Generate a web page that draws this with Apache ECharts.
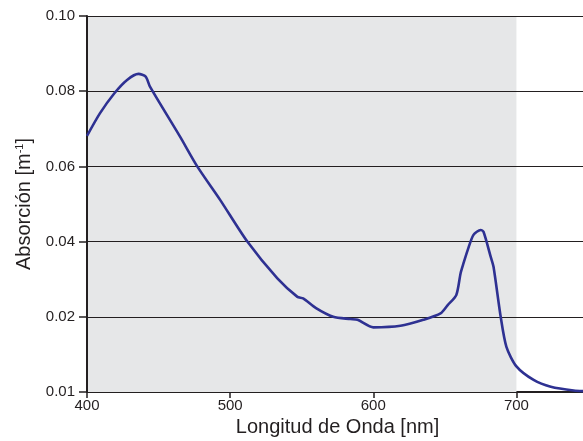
<!DOCTYPE html>
<html>
<head>
<meta charset="utf-8">
<script src="https://cdn.jsdelivr.net/npm/echarts@6/dist/echarts.min.js"></script>
<style>
  html, body { margin: 0; padding: 0; background: #fff; }
  #chart { width: 583px; height: 441px; }
</style>
</head>
<body>
<div id="chart"></div>
<script>
// longitud de onda (nm) y absorción
var wavelength = [400, 409, 419, 428, 436, 441, 444, 465, 477, 493, 512, 533, 547, 551, 560, 572, 584, 589, 600, 619, 635, 647, 652, 658, 661, 663, 666, 670, 675, 677, 682, 684, 689, 693, 700, 712, 724, 740, 750]
var absorption = [0.0681, 0.0741, 0.0794, 0.0830, 0.0846, 0.0839, 0.0812, 0.0679, 0.0600, 0.0511, 0.0400, 0.0302, 0.0253, 0.0249, 0.0223, 0.0200, 0.0197, 0.0196, 0.0186, 0.0188, 0.0196, 0.0209, 0.0231, 0.0258, 0.0316, 0.0342, 0.0378, 0.0418, 0.0431, 0.0426, 0.0360, 0.0333, 0.0200, 0.0160, 0.0134, 0.0116, 0.0107, 0.0102, 0.0101]
// el eje y tiene marcas equiespaciadas
var yTicks = [0.01, 0.02, 0.04, 0.06, 0.08, 0.10]
var yTickLabels = ['0.01', '0.02', '0.04', '0.06', '0.08', '0.10']
var shadedRange = [400, 700]

function toIdx(v) {
  for (var i = 0; i < yTicks.length - 1; i++) {
    if (v <= yTicks[i + 1]) {
      return i + (v - yTicks[i]) / (yTicks[i + 1] - yTicks[i])
    }
  }
  return yTicks.length - 1
}

var data = wavelength.map(function(w, i) {
  return [w, toIdx(absorption[i])]
})

var font = '"Liberation Sans", Arial, sans-serif'
var ink = '#231f20'
var chart = echarts.init(document.getElementById('chart'))
chart.setOption({
  animation: false,
  grid: {
    left: 87,
    top: 16,
    width: 501,
    height: 376,
    outerBoundsMode: 'none'
  },
  xAxis: {
    type: 'value',
    min: 400,
    max: 750,
    interval: 100,
    name: 'Longitud de Onda [nm]',
    nameLocation: 'middle',
    nameGap: 16,
    nameTextStyle: { fontFamily: font, fontSize: 20, color: ink },
    axisLine: { lineStyle: { color: ink, width: 2 } },
    axisTick: { show: true, length: 6, lineStyle: { color: ink, width: 1.5 } },
    axisLabel: {
      fontFamily: font,
      fontSize: 15,
      color: ink,
      margin: 6,
      formatter: function(v) { return v % 100 === 0 ? String(v) : '' }
    },
    splitLine: { show: false }
  },
  yAxis: {
    type: 'value',
    min: 0,
    max: 5,
    interval: 1,
    z: 3,
    name: 'Absorción [m{sup|-1}]',
    nameLocation: 'middle',
    nameGap: 45,
    nameTextStyle: {
      fontFamily: font,
      fontSize: 20,
      color: ink,
      rich: {
        sup: { fontFamily: font, fontSize: 11, color: ink, padding: [0, 0, 10, 0] }
      }
    },
    axisLine: { show: true, lineStyle: { color: ink, width: 2 } },
    axisTick: { show: true, length: 8, lineStyle: { color: ink, width: 1.5 } },
    axisLabel: {
      fontFamily: font,
      fontSize: 15,
      color: ink,
      margin: 12,
      formatter: function(v) { return yTickLabels[Math.round(v)] }
    },
    splitLine: { show: true, lineStyle: { color: ink, width: 1 } }
  },
  series: [{
    type: 'line',
    z: 4,
    data: data,
    showSymbol: false,
    smooth: 0.25,
    lineStyle: { color: '#2e3192', width: 2.6 },
    markArea: {
      silent: true,
      z: 1,
      itemStyle: { color: '#e6e7e8' },
      data: [[{ xAxis: shadedRange[0] }, { xAxis: shadedRange[1] }]]
    }
  }]
})
</script>
</body>
</html>
